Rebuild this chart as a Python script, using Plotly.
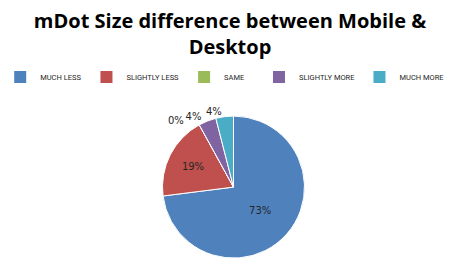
import plotly.graph_objects as go

categories = ["MUCH LESS", "SLIGHTLY LESS", "SAME", "SLIGHTLY MORE", "MUCH MORE"]
values = [73, 19, 0, 4, 4]
colors = ["#4F81BD", "#C0504D", "#9BBB59", "#8064A2", "#4BACC6"]
label_positions = ["inside", "inside", "outside", "outside", "outside"]
# trailing no-break spaces nudge crowded outside labels apart
label_pad = [0, 0, 4, 1, 0]
# legend split in two halves so each fits on one row
legend_groups = [[0, 1, 2], [3, 4]]

DOMAIN = dict(x=[0, 1], y=[0.026, 0.562])
LABEL_FONT = dict(family="DejaVu Sans", size=10, color="#262626")
LEGEND_FONT = dict(family="Roboto", size=7.5, color="#262626")

fig = go.Figure()

# legend keys: same data, drawn as vanishingly small pies under the main one
for g, idx in enumerate(legend_groups):
    fig.add_trace(go.Pie(
        labels=[categories[i] for i in idx],
        values=[values[i] for i in idx],
        sort=False,
        marker=dict(colors=[colors[i] for i in idx]),
        textinfo="none",
        domain=dict(x=[0.5, 0.50001], y=[0.3, 0.30001]),
        showlegend=True,
        legend="legend" if g == 0 else "legend2",
        hoverinfo="skip",
    ))

fig.add_trace(go.Pie(
    labels=categories,
    values=values,
    sort=False,
    direction="clockwise",
    rotation=0,
    marker=dict(colors=colors, line=dict(color="white", width=1)),
    texttemplate="%{percent:.0%}",
    textposition=[p if p == "inside" else "none" for p in label_positions],
    insidetextorientation="horizontal",
    textfont=LABEL_FONT,
    domain=DOMAIN,
    showlegend=False,
    hoverinfo="label+percent",
))

for i, p in enumerate(label_positions):
    if p != "outside":
        continue
    fig.add_trace(go.Pie(
        labels=categories,
        values=values,
        sort=False,
        direction="clockwise",
        rotation=0,
        marker=dict(colors=["rgba(0,0,0,0)"] * len(values), line=dict(width=0)),
        texttemplate="%{percent:.0%}" + "\u00a0" * label_pad[i],
        textposition=["outside" if j == i else "none" for j in range(len(values))],
        textfont=LABEL_FONT,
        domain=DOMAIN,
        showlegend=False,
        hoverinfo="skip",
    ))

fig.update_layout(
    width=460, height=265,
    margin=dict(l=80, r=80, t=0, b=0),
    paper_bgcolor="white",
    plot_bgcolor="white",
    title=dict(
        text="mDot Size difference between Mobile &<br>Desktop",
        x=0.5, xanchor="center", y=0.893, yanchor="top",
        font=dict(family="Open Sans", size=20, color="#000000", weight="bold"),
    ),
    legend=dict(
        orientation="h",
        x=0.557, xanchor="right", y=0.709, yanchor="middle",
        font=LEGEND_FONT, itemwidth=30, traceorder="normal",
    ),
    legend2=dict(
        orientation="h",
        x=0.587, xanchor="left", y=0.709, yanchor="middle",
        font=LEGEND_FONT, itemwidth=30, traceorder="normal",
    ),
)

fig.write_html("out.html")
